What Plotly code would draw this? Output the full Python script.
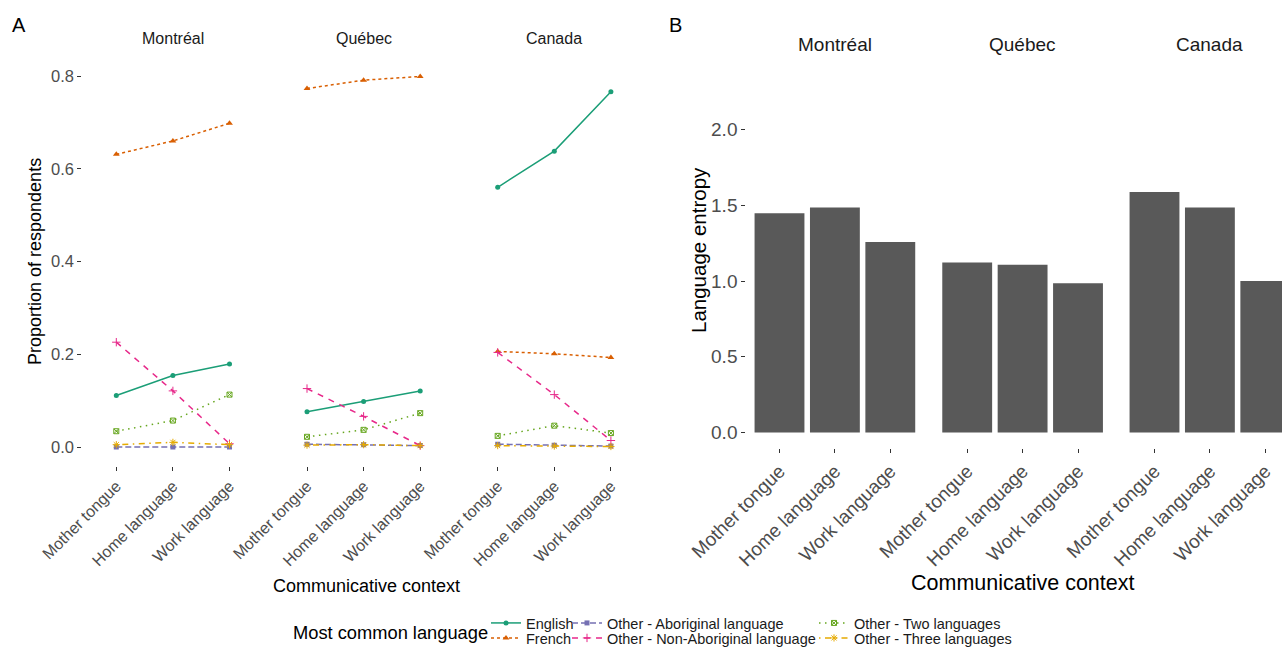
import plotly.graph_objects as go

# ---------------- data ----------------
regions = ["Montréal", "Québec", "Canada"]
contexts = ["Mother tongue", "Home language", "Work language"]
languages = ["English", "French", "Other - Aboriginal language",
             "Other - Non-Aboriginal language", "Other - Two languages",
             "Other - Three languages"]

# proportions, ordered Montréal (MT, HL, WL), Québec (MT, HL, WL), Canada (MT, HL, WL)
english = [0.111, 0.154, 0.179, 0.076, 0.098, 0.121, 0.560, 0.638, 0.766]
french = [0.631, 0.660, 0.698, 0.773, 0.791, 0.799, 0.206, 0.201, 0.193]
aboriginal = [0.000, 0.000, 0.000, 0.006, 0.005, 0.003, 0.006, 0.004, 0.002]
non_aboriginal = [0.226, 0.121, 0.007, 0.126, 0.066, 0.003, 0.204, 0.113, 0.014]
two_languages = [0.034, 0.057, 0.113, 0.022, 0.037, 0.073, 0.024, 0.046, 0.030]
three_languages = [0.005, 0.010, 0.005, 0.004, 0.005, 0.003, 0.003, 0.002, 0.001]

# language entropy, same ordering
entropy = [1.447, 1.485, 1.258, 1.122, 1.107, 0.985, 1.587, 1.485, 1.000]

# ---------------- styles ----------------
W, H = 1282, 647
FONT = "Liberation Sans, Arial, sans-serif"
series = [
    (english, "#1B9E77", "solid", "circle", 5),
    (french, "#D95F02", "3px,3px", "triangle-up", 6),
    (aboriginal, "#7570B3", "6px,3px", "square", 5),
    (non_aboriginal, "#E7298A", "6px,6px", "cross-thin-open", 6),
    (two_languages, "#66A61E", "1.5px,4.5px", "square-x-open", 5),
    (three_languages, "#E6AB02", "1.5px,4.5px,6px,4.5px", "asterisk-open", 6),
]
# legend placement (text start x, row centre y) for each language
legend_text_x = [526, 526, 607, 607, 854, 854]
legend_row_y = [623, 638, 623, 638, 623, 638]
legend_names = ["legend", "legend2", "legend3", "legend4", "legend5", "legend6"]


def px(x):
    return x / W


def py(y):
    return 1 - y / H


fig = go.Figure()

# ---------------- panel A: lines ----------------
for k in range(3):
    xa = "x" if k == 0 else f"x{k + 1}"
    for i, ((vals, col, dash, sym, ms), name) in enumerate(zip(series, languages)):
        open_sym = sym.endswith("open")
        fig.add_trace(go.Scatter(
            x=contexts, y=vals[3 * k:3 * k + 3], name=name,
            mode="lines+markers", xaxis=xa, yaxis="y",
            line=dict(color=col, width=1.5, dash=dash),
            marker=dict(symbol=sym, size=ms, color=col,
                        line=dict(color=col, width=1.0 if open_sym else 0)),
            legend=legend_names[i], showlegend=(k == 0), hoverinfo="skip",
        ))

# ---------------- panel B: bars ----------------
for k in range(3):
    xa = f"x{k + 4}"
    fig.add_trace(go.Bar(
        x=contexts, y=entropy[3 * k:3 * k + 3], width=0.9,
        marker=dict(color="#595959", line=dict(width=0)),
        xaxis=xa, yaxis="y2", showlegend=False, hoverinfo="skip",
    ))

# ---------------- axes ----------------
tick_common = dict(ticks="outside", ticklen=4, tickwidth=1.2, tickcolor="#333333",
                   showgrid=False, zeroline=False, showline=False, automargin=False)

unitA = 56.6
mtA = [116.3, 307.0, 497.7]
unitB = 55.4
mtB = [779.5, 967.2, 1154.5]

layout_axes = {}
for k in range(3):
    left = mtA[k] - 0.6 * unitA
    right = left + 3.2 * unitA
    key = "xaxis" if k == 0 else f"xaxis{k + 1}"
    layout_axes[key] = dict(
        domain=[px(left), px(right)], anchor="y", type="category",
        categoryorder="array", categoryarray=contexts, range=[-0.6, 2.6],
        tickangle=-45, tickfont=dict(size=16, color="#4D4D4D", family=FONT),
        **tick_common)
for k in range(3):
    left = mtB[k] - 0.6 * unitB
    right = left + 3.2 * unitB
    r_end = 2.6
    if right > W:
        r_end = -0.6 + (W - left) / unitB
        right = W
    layout_axes[f"xaxis{k + 4}"] = dict(
        domain=[px(left), px(right)], anchor="y2", type="category",
        categoryorder="array", categoryarray=contexts, range=[-0.6, r_end],
        tickangle=-45, tickfont=dict(size=19, color="#4D4D4D", family=FONT),
        **tick_common)

# y axis A: value 0 at 447px, 0.8 at 76px
a_bot, a_top = 465.55, 59.0
a_scale = (447 - 76) / 0.8
layout_axes["yaxis"] = dict(
    domain=[py(a_bot), py(a_top)], anchor="x",
    range=[-(a_bot - 447) / a_scale, (447 - a_top) / a_scale],
    tickvals=[0, 0.2, 0.4, 0.6, 0.8], ticktext=["0.0", "0.2", "0.4", "0.6", "0.8"],
    tickfont=dict(size=16.5, color="#4D4D4D", family=FONT), **tick_common)

# y axis B: value 0 at 432.5px, 2.0 at 129.5px
b_scale = (432.5 - 129.5) / 2.0
b_bot, b_top = 432.5 + 0.1 * b_scale, 60.0
layout_axes["yaxis2"] = dict(
    domain=[py(b_bot), py(b_top)], anchor="x4",
    range=[-0.1, (432.5 - b_top) / b_scale],
    tickvals=[0, 0.5, 1.0, 1.5, 2.0], ticktext=["0.0", "0.5", "1.0", "1.5", "2.0"],
    tickfont=dict(size=19, color="#4D4D4D", family=FONT), **tick_common)

# ---------------- annotations ----------------
ann = []


def text(x, y, s, size, color="#000000", angle=0, xanchor="center"):
    ann.append(dict(x=px(x), y=py(y), xref="paper", yref="paper", text=s,
                    showarrow=False, xanchor=xanchor, yanchor="middle",
                    textangle=angle, font=dict(size=size, color=color, family=FONT)))


text(19, 25, "A", 20)
text(675, 25, "B", 20)
for k, r in enumerate(regions):
    text(mtA[k] + unitA, 38.5, r, 16, "#1A1A1A")
    text(mtB[k] + unitB, 44.5, r, 19, "#1A1A1A")
text(35, 262, "Proportion of respondents", 18, angle=-90)
text(366, 586, "Communicative context", 18)
text(698, 250, "Language entropy", 20.5, angle=-90)
text(1022.5, 583, "Communicative context", 21.5)
text(490, 632, "Most common language", 18.3, xanchor="right")

legends = {}
for i, lg in enumerate(legend_names):
    legends[lg] = dict(
        orientation="v", xanchor="left", yanchor="middle",
        x=px(legend_text_x[i] - 40), y=py(legend_row_y[i]),
        bgcolor="rgba(0,0,0,0)", borderwidth=0, tracegroupgap=0,
        itemwidth=30, font=dict(size=14.5, color="#1A1A1A", family=FONT))

fig.update_layout(
    width=W, height=H,
    margin=dict(l=0, r=0, t=0, b=0, pad=0, autoexpand=False),
    paper_bgcolor="white", plot_bgcolor="white",
    font=dict(family=FONT),
    annotations=ann,
    **legends,
    **layout_axes,
)

fig.write_html("out.html", config={"displayModeBar": False},
               post_script="document.body.style.margin='0px';document.body.style.overflow='hidden';")
